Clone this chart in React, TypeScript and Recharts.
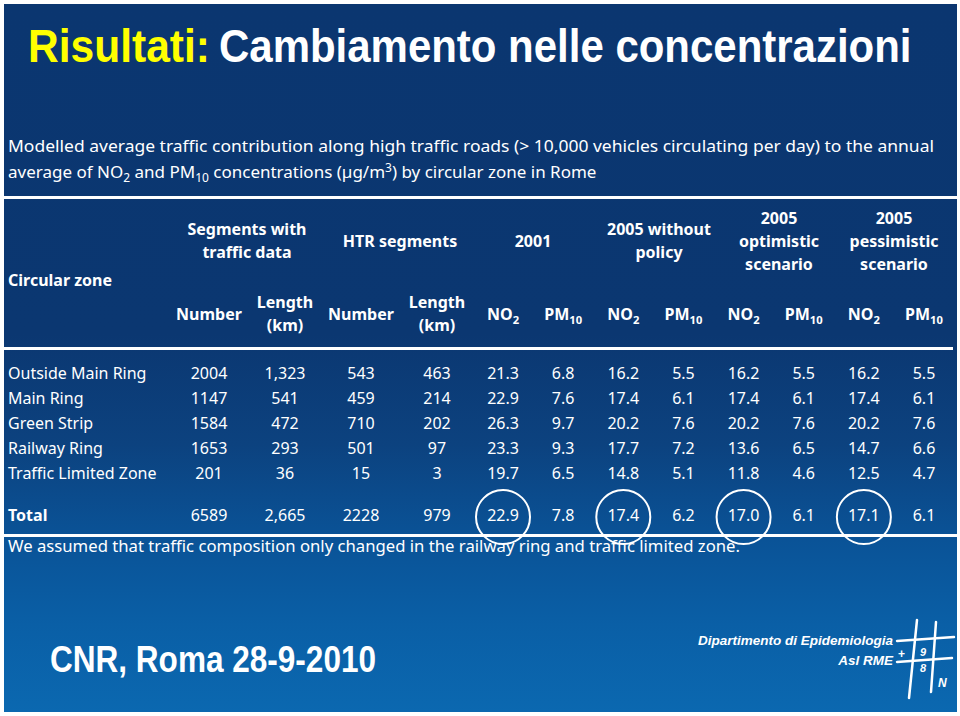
import React from 'react';
import { ScatterChart, Scatter, XAxis, YAxis, Customized } from 'recharts';

// ---------- data ----------
const zones = ['Outside Main Ring', 'Main Ring', 'Green Strip', 'Railway Ring', 'Traffic Limited Zone'];
const totalRow = ['Total'];

const countColumns = ['segNumber', 'segLength', 'htrNumber', 'htrLength'];
const countHeaders = [['Number'], ['Length', '(km)'], ['Number'], ['Length', '(km)']];
const concColumns = ['no2_2001', 'pm10_2001', 'no2_2005', 'pm10_2005', 'no2_opt', 'pm10_opt', 'no2_pess', 'pm10_pess'];
const concPollutants = ['NO2', 'PM10', 'NO2', 'PM10', 'NO2', 'PM10', 'NO2', 'PM10'];
const circledColumns = ['no2_2001', 'no2_2005', 'no2_opt', 'no2_pess'];

const groupHeaders = [
  ['Segments with', 'traffic data'],
  ['HTR segments'],
  ['2001'],
  ['2005 without', 'policy'],
  ['2005', 'optimistic', 'scenario'],
  ['2005', 'pessimistic', 'scenario'],
];

const segNumber = [2004, 1147, 1584, 1653, 201];
const segLength = [1323, 541, 472, 293, 36];
const htrNumber = [543, 459, 710, 501, 15];
const htrLength = [463, 214, 202, 97, 3];

const no2_2001 = [21.3, 22.9, 26.3, 23.3, 19.7];
const pm10_2001 = [6.8, 7.6, 9.7, 9.3, 6.5];
const no2_2005 = [16.2, 17.4, 20.2, 17.7, 14.8];
const pm10_2005 = [5.5, 6.1, 7.6, 7.2, 5.1];
const no2_opt = [16.2, 17.4, 20.2, 13.6, 11.8];
const pm10_opt = [5.5, 6.1, 7.6, 6.5, 4.6];
const no2_pess = [16.2, 17.4, 20.2, 14.7, 12.5];
const pm10_pess = [5.5, 6.1, 7.6, 6.6, 4.7];

const countTotals = [6589, 2665, 2228, 979];
const concTotals = [22.9, 7.8, 17.4, 6.2, 17.0, 6.1, 17.1, 6.1];

// ---------- derived tables ----------
const plain = (v: number) => String(v);
const comma = (v: number) => v.toLocaleString('en-US');
const oneDec = (v: number) => v.toFixed(1);

const countSeries = [segNumber, segLength, htrNumber, htrLength];
const countFormat = [plain, comma, plain, plain];
const concSeries = [no2_2001, pm10_2001, no2_2005, pm10_2005, no2_opt, pm10_opt, no2_pess, pm10_pess];

const countCells = zones.flatMap((row, r) =>
  countColumns.map((col, c) => ({ col, row, label: countFormat[c](countSeries[c][r]) }))
);
const countTotalCells = countColumns.map((col, c) => ({ col, row: totalRow[0], label: countFormat[c](countTotals[c]) }));
const concCells = zones.flatMap((row, r) =>
  concColumns.map((col, c) => ({ col, row, label: oneDec(concSeries[c][r]) }))
);
const concTotalCells = concColumns.map((col, c) => ({ col, row: totalRow[0], label: oneDec(concTotals[c]) }));
const circleCells = circledColumns.map((col) => ({ col, row: totalRow[0], label: '' }));

// ---------- styles ----------
const FONT = '"Noto Sans", "DejaVu Sans", sans-serif';
const TITLE_FONT = '"Liberation Sans", Arial, sans-serif';
const WHITE = '#ffffff';

const CellText = (props: any) => (
  <text x={props.cx} y={props.cy} dy="0.36em" textAnchor="middle" fill={WHITE} stroke="none" fontFamily={FONT} fontSize={16}>
    {props.payload.label}
  </text>
);

const CircleMark = (props: any) => (
  <circle cx={props.cx} cy={props.cy + 2} r={27} fill="none" stroke={WHITE} strokeWidth={2} />
);

const CountTick = (props: any) => {
  const i = countColumns.indexOf(props.payload.value);
  const lines = countHeaders[i] || [];
  if (lines.length === 1) {
    return (
      <text x={props.x} y={314} dy="0.36em" textAnchor="middle" fill={WHITE} stroke="none" fontFamily={FONT} fontSize={16} fontWeight="bold">
        {lines[0]}
      </text>
    );
  }
  return (
    <g stroke="none">
      {lines.map((l, k) => (
        <text key={k} x={props.x} y={302 + k * 23} dy="0.36em" textAnchor="middle" fill={WHITE} stroke="none" fontFamily={FONT} fontSize={16} fontWeight="bold">
          {l}
        </text>
      ))}
    </g>
  );
};

const Chem = ({ x, y, name, anchor = 'middle', size = 16, bold = true }: any) => {
  const base = name.replace(/[0-9]+$/, '');
  const sub = name.slice(base.length);
  return (
    <text x={x} y={y} dy="0.36em" textAnchor={anchor} fill={WHITE} stroke="none" fontFamily={FONT} fontSize={size} fontWeight={bold ? 'bold' : 'normal'}>
      {base}
      <tspan dy={4} fontSize={size * 0.7}>{sub}</tspan>
    </text>
  );
};

const ConcTick = (props: any) => {
  const i = concColumns.indexOf(props.payload.value);
  return <Chem x={props.x} y={314} name={concPollutants[i] || ''} />;
};

const RowTick = (props: any) => (
  <text x={8} y={props.y} dy="0.36em" textAnchor="start" fill={WHITE} stroke="none" fontFamily={FONT} fontSize={16}>
    {props.payload.value}
  </text>
);

const TotalTick = (props: any) => (
  <text x={8} y={props.y} dy="0.36em" textAnchor="start" fill={WHITE} stroke="none" fontFamily={FONT} fontSize={16} fontWeight="bold">
    {props.payload.value}
  </text>
);

const groupCenters = [247, 400, 533, 659, 779, 894];

const SlideText = () => (
  <g stroke="none">
    {/* title */}
    <text transform="translate(28,62) scale(0.905,1)" fill="#ffff00" fontFamily={TITLE_FONT} fontWeight="bold" fontSize={47}>
      Risultati:
    </text>
    <text transform="translate(219,62) scale(0.893,1)" fill={WHITE} fontFamily={TITLE_FONT} fontWeight="bold" fontSize={47}>
      Cambiamento nelle concentrazioni
    </text>

    {/* subtitle */}
    <text x={8} y={146} dy="0.36em" fill={WHITE} fontFamily={FONT} fontSize={17} textLength={926} lengthAdjust="spacingAndGlyphs">
      Modelled average traffic contribution along high traffic roads (&gt; 10,000 vehicles circulating per day) to the annual
    </text>
    <text x={8} y={172} dy="0.36em" fill={WHITE} fontFamily={FONT} fontSize={17}>
      average of NO
      <tspan dy={4} fontSize={12}>2</tspan>
      <tspan dy={-4}> and PM</tspan>
      <tspan dy={4} fontSize={12}>10</tspan>
      <tspan dy={-4}> concentrations (µg/m</tspan>
      <tspan dy={-6} fontSize={12}>3</tspan>
      <tspan dy={6}>) by circular zone in Rome</tspan>
    </text>

    {/* rules */}
    <rect x={4} y={196} width={953} height={3} fill={WHITE} />
    <rect x={4} y={347} width={949} height={3} fill={WHITE} />
    <rect x={4} y={534} width={953} height={3} fill={WHITE} />

    {/* header */}
    <text x={8} y={280} dy="0.36em" fill={WHITE} fontFamily={FONT} fontSize={16} fontWeight="bold">
      Circular zone
    </text>
    {groupHeaders.map((lines, g) => {
      const top = 241 - ((lines.length - 1) * 23) / 2;
      return lines.map((l, k) => (
        <text key={`${g}-${k}`} x={groupCenters[g]} y={top + k * 23} dy="0.36em" textAnchor="middle" fill={WHITE} fontFamily={FONT} fontSize={16} fontWeight="bold">
          {l}
        </text>
      ));
    })}

    {/* footnote */}
    <text x={8} y={546} dy="0.36em" fill={WHITE} fontFamily={FONT} fontSize={16} textLength={732} lengthAdjust="spacingAndGlyphs">
      We assumed that traffic composition only changed in the railway ring and traffic limited zone.
    </text>

    {/* footer */}
    <text x={50} y={672} fill={WHITE} fontFamily={TITLE_FONT} fontWeight="bold" fontSize={37} textLength={326} lengthAdjust="spacingAndGlyphs">
      CNR, Roma 28-9-2010
    </text>
    <text x={893} y={645} textAnchor="end" fill={WHITE} fontFamily={TITLE_FONT} fontWeight="bold" fontStyle="italic" fontSize={13.5}>
      Dipartimento di Epidemiologia
    </text>
    <text x={893} y={665} textAnchor="end" fill={WHITE} fontFamily={TITLE_FONT} fontWeight="bold" fontStyle="italic" fontSize={13.5}>
      Asl RME
    </text>
    <g stroke={WHITE} strokeWidth={2.5} fill="none" strokeLinecap="round">
      <line x1={917} y1={620} x2={909} y2={698} />
      <line x1={936} y1={622} x2={931} y2={692} />
      <line x1={897} y1={641} x2={954} y2={637} />
      <line x1={897} y1={662} x2={952} y2={658} />
    </g>
    <text x={898} y={658} fill={WHITE} fontFamily={TITLE_FONT} fontWeight="bold" fontSize={12}>+</text>
    <text x={920} y={656} fill={WHITE} fontFamily={TITLE_FONT} fontWeight="bold" fontStyle="italic" fontSize={11}>9</text>
    <text x={920} y={672} fill={WHITE} fontFamily={TITLE_FONT} fontWeight="bold" fontStyle="italic" fontSize={11}>8</text>
    <text x={938} y={687} fill={WHITE} fontFamily={TITLE_FONT} fontWeight="bold" fontStyle="italic" fontSize={12}>N</text>
  </g>
);

export default function App() {
  return (
    <div style={{ position: 'absolute', left: 0, top: 0, width: 960, height: 716, background: '#ffffff', overflow: 'hidden' }}>
      <div
        style={{
          position: 'absolute',
          left: 4,
          top: 4,
          width: 953,
          height: 708,
          background:
            'linear-gradient(to bottom, #0b3670 0px, #0b3771 330px, #0c427f 440px, #0a5296 530px, #0a5fa6 620px, #0b68b0 708px)',
        }}
      />
      <div style={{ position: 'absolute', left: 0, top: 0 }}>
        <ScatterChart width={960} height={716} margin={{ top: 0, right: 0, bottom: 0, left: 0 }}>
          <Customized component={SlideText} />
          <XAxis
            xAxisId="counts"
            dataKey="col"
            type="category"
            scale="point"
            orientation="top"
            height={1}
            allowDuplicatedCategory={false}
            ticks={countColumns}
            padding={{ left: 207, right: 523 }}
            axisLine={false}
            tickLine={false}
            interval={0}
            stroke="none"
            tick={<CountTick />}
          />
          <XAxis
            xAxisId="conc"
            dataKey="col"
            type="category"
            scale="point"
            orientation="top"
            height={1}
            allowDuplicatedCategory={false}
            ticks={concColumns}
            padding={{ left: 501, right: 36 }}
            axisLine={false}
            tickLine={false}
            interval={0}
            stroke="none"
            tick={<ConcTick />}
          />
          <YAxis
            yAxisId="rows"
            dataKey="row"
            type="category"
            scale="point"
            reversed
            width={1}
            allowDuplicatedCategory={false}
            ticks={zones}
            padding={{ top: 371, bottom: 243 }}
            axisLine={false}
            tickLine={false}
            interval={0}
            stroke="none"
            tick={<RowTick />}
          />
          <YAxis
            yAxisId="total"
            dataKey="row"
            type="category"
            scale="point"
            reversed
            width={1}
            allowDuplicatedCategory={false}
            ticks={totalRow}
            padding={{ top: 503, bottom: 191 }}
            axisLine={false}
            tickLine={false}
            interval={0}
            stroke="none"
            tick={<TotalTick />}
          />
          <Scatter xAxisId="counts" yAxisId="rows" data={countCells} shape={CellText} isAnimationActive={false} />
          <Scatter xAxisId="counts" yAxisId="total" data={countTotalCells} shape={CellText} isAnimationActive={false} />
          <Scatter xAxisId="conc" yAxisId="rows" data={concCells} shape={CellText} isAnimationActive={false} />
          <Scatter xAxisId="conc" yAxisId="total" data={concTotalCells} shape={CellText} isAnimationActive={false} />
          <Scatter xAxisId="conc" yAxisId="total" data={circleCells} shape={CircleMark} isAnimationActive={false} />
        </ScatterChart>
      </div>
    </div>
  );
}
